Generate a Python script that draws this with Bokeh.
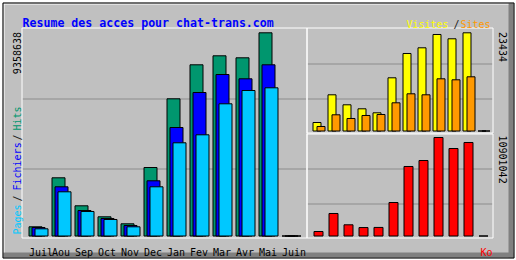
import numpy as np
from bokeh.plotting import figure
from bokeh.models import Range1d
from bokeh.core.properties import value
from bokeh.embed import file_html
from bokeh.resources import INLINE

# ---------------- data ----------------
months = ["Juil", "Aou", "Sep", "Oct", "Nov", "Dec", "Jan", "Fev", "Mar", "Avr", "Mai", "Juin"]
hits = [423700, 2680450, 1390900, 884300, 561900, 3154800, 6318900, 7884800, 8299300, 8207200, 9358638, 0]
files = [391500, 2265950, 1174400, 806000, 483600, 2542300, 4997100, 6609000, 7438000, 7240000, 7884800, 0]
pages = [331600, 2035700, 1128400, 759900, 423700, 2265950, 4292400, 4660900, 6088600, 6701100, 6825500, 0]
visits = [2028, 8639, 6252, 5298, 4343, 12696, 18495, 19855, 23029, 22003, 23434, 0]
sites = [1074, 3866, 2983, 3699, 3938, 6730, 8877, 8639, 12457, 12218, 12934, 0]
kbytes = [498000, 2490100, 1239500, 935000, 948000, 3707400, 7691600, 8355600, 10901042, 9683600, 10347700, 0]
title = "Resume des acces pour chat-trans.com"
left_legend = ["Pages", "Fichiers", "Hits"]
right_legend = ["Visites", "Sites"]
kb_label = "Ko"

# ---------------- layout (pixels) ----------------
W, H = 516, 260
L_X0, L_STEP = 28.5, 23.0
L_BASE, L_TOP = 235.5, 32.3
R_X0, R_STEP = 312.5, 15.0
U_BASE, U_TOP = 130.5, 32.3
D_BASE, D_TOP = 235.5, 137.0

GREY = "#C0C0C0"
DKGREY = "#808080"
GRID = "#8C8C8C"
C_HITS, C_FILES, C_PAGES = "#00966E", "#0000FF", "#00C8FF"
C_VIS, C_SITES, C_KB = "#FFFF00", "#FF9900", "#FF0000"
FONT = value("DejaVu Sans Mono")


def xr(x0, step):
    return Range1d(-x0 / step, (W - x0) / step)


def yr(base, top, vmax):
    s = vmax / (base - top)
    return Range1d(-(H - base) * s, base * s)


p = figure(width=W, height=H, x_range=Range1d(0, W), y_range=Range1d(H, 0),
           min_border=0, toolbar_location=None, output_backend="svg",
           x_axis_type=None, y_axis_type=None)
p.grid.visible = False
p.outline_line_color = None
p.background_fill_color = "white"
p.border_fill_color = "white"

p.extra_x_ranges = {"lx": xr(L_X0, L_STEP), "rx": xr(R_X0, R_STEP)}
p.extra_y_ranges = {"ly": yr(L_BASE, L_TOP, max(hits)),
                    "uy": yr(U_BASE, U_TOP, max(visits)),
                    "dy": yr(D_BASE, D_TOP, max(kbytes))}

# ---------------- frame ----------------
p.quad(left=[2], right=[514], top=[2], bottom=[258], fill_color=GREY, line_color=None)
p.quad(left=[508], right=[513], top=[3], bottom=[257], fill_color=DKGREY, line_color=None)
p.quad(left=[3], right=[513], top=[252], bottom=[257], fill_color=DKGREY, line_color=None)
p.segment(x0=[3.5, 3], y0=[3, 3.5], x1=[3.5, 508], y1=[252, 3.5], line_color="white", line_width=1)
p.quad(left=[2.5], right=[513.5], top=[2.5], bottom=[257.5], fill_color=None, line_color="black", line_width=1)

# grid lines
p.segment(x0=[22, 22, 307, 307, 307, 307], x1=[306, 306, 492, 492, 492, 492],
          y0=[98.5, 168.5, 63.5, 98.5, 168.5, 203.5], y1=[98.5, 168.5, 63.5, 98.5, 168.5, 203.5],
          line_color=GRID, line_width=1)

# ---------------- bars ----------------
idx = np.arange(len(months), dtype=float)


def bars(off, w, vals, color, xname, yname, step):
    p.quad(left=idx + off / step, right=idx + (off + w) / step, bottom=0, top=vals,
           fill_color=color, line_color="black", line_width=1,
           x_range_name=xname, y_range_name=yname)


bars(0, 13, hits, C_HITS, "lx", "ly", L_STEP)
bars(3, 13, files, C_FILES, "lx", "ly", L_STEP)
bars(6, 13, pages, C_PAGES, "lx", "ly", L_STEP)
bars(0, 8, visits, C_VIS, "rx", "uy", R_STEP)
bars(4, 8, sites, C_SITES, "rx", "uy", R_STEP)
bars(1, 9, kbytes, C_KB, "rx", "dy", R_STEP)

# panel outlines
p.quad(left=[21.5, 306.5, 306.5], right=[306.5, 492.5, 492.5],
       top=[27.5, 27.5, 133.5], bottom=[237.5, 132.5, 237.5],
       fill_color=None, line_color="white", line_width=1)

# ---------------- texts ----------------
p.text(x=[22], y=[22], text=[title], text_font=FONT, text_font_style="bold",
       text_font_size=value("11.6px"), text_color="#0000FF",
       text_align="left", text_baseline="alphabetic")

p.text(x=idx, y=[252] * len(months), text=months, x_range_name="lx",
       text_font=FONT, text_font_size=value("10px"), text_color="black",
       text_align="left", text_baseline="alphabetic")

p.text(x=[492], y=[252], text=[kb_label], text_font=FONT, text_font_size=value("10px"),
       text_color=C_KB, text_align="right", text_baseline="alphabetic")

# right legend
p.text(x=[406, 456, 460], y=[24, 24, 24], text=[right_legend[0], "/", right_legend[1]],
       text_font=FONT, text_font_size=value("10px"),
       text_color=[C_VIS, "#202020", C_SITES],
       text_align=["left", "center", "left"], text_baseline="alphabetic")

# left vertical legend (bottom to top)
p.text(x=[16.5] * 5, y=[234, 201, 190, 140, 130],
       text=[left_legend[0], "/", left_legend[1], "/", left_legend[2]],
       angle=np.pi / 2, text_font=FONT, text_font_size=value("10px"),
       text_color=[C_PAGES, "#202020", C_FILES, "#202020", C_HITS],
       text_align="left", text_baseline="middle")

# max labels
p.text(x=[16.5], y=[31.5], text=[str(max(hits))], angle=np.pi / 2,
       text_font=FONT, text_font_size=value("10px"), text_color="black",
       text_align="right", text_baseline="middle")
p.text(x=[502.5, 502.5], y=[31.5, 135], text=[str(max(visits)), str(max(kbytes))],
       angle=-np.pi / 2, text_font=FONT, text_font_size=value("10px"), text_color="black",
       text_align="left", text_baseline="middle")

open("out.html", "w").write(file_html(p, INLINE))
